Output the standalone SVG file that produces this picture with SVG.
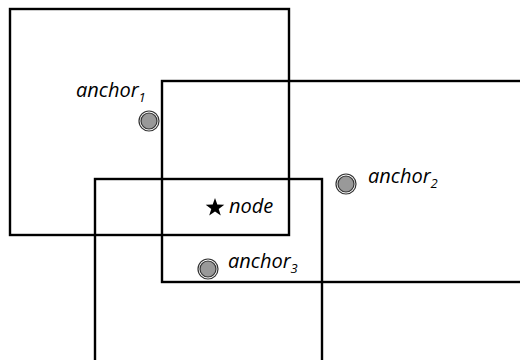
<svg xmlns="http://www.w3.org/2000/svg" width="520" height="360" viewBox="0 0 520 360">
<defs>
<style>
.box{fill:none;stroke:#000;stroke-width:2.4}
.lbl{font-family:"Open Sans","DejaVu Sans",sans-serif;font-style:italic;font-size:20px;fill:#000}
.sub{font-size:13px}
.ring{fill:#fff;stroke:#333;stroke-width:1.2}
.dot{fill:#999;stroke:#333;stroke-width:1.2}
</style>
<g id="anchorMark"><circle class="ring" r="10"/><circle class="dot" r="8"/></g>
</defs>
<rect width="520" height="360" fill="#fff"/>
<g id="box1"><rect class="box" x="10" y="9" width="279" height="226"/></g>
<g id="box2"><rect class="box" x="162" y="81" width="370" height="201"/></g>
<g id="box3"><rect class="box" x="95" y="179" width="227" height="200"/></g>
<g id="connectors"></g>
<g id="anchor1"><use href="#anchorMark" x="149" y="121"/><text class="lbl" x="76" y="97">anchor<tspan class="sub" dy="5">1</tspan></text></g>
<g id="anchor2"><use href="#anchorMark" x="346" y="184"/><text class="lbl" x="368" y="183">anchor<tspan class="sub" dy="5">2</tspan></text></g>
<g id="anchor3"><use href="#anchorMark" x="208" y="269"/><text class="lbl" x="228" y="268">anchor<tspan class="sub" dy="5">3</tspan></text></g>
<g id="node"><polygon fill="#000" points="215,198 217.3,204.6 224.3,204.7 218.7,208.9 220.8,215.6 215,211.6 209.2,215.6 211.3,208.9 205.7,204.7 212.7,204.6"/><text class="lbl" x="229" y="213">node</text></g>
</svg>
